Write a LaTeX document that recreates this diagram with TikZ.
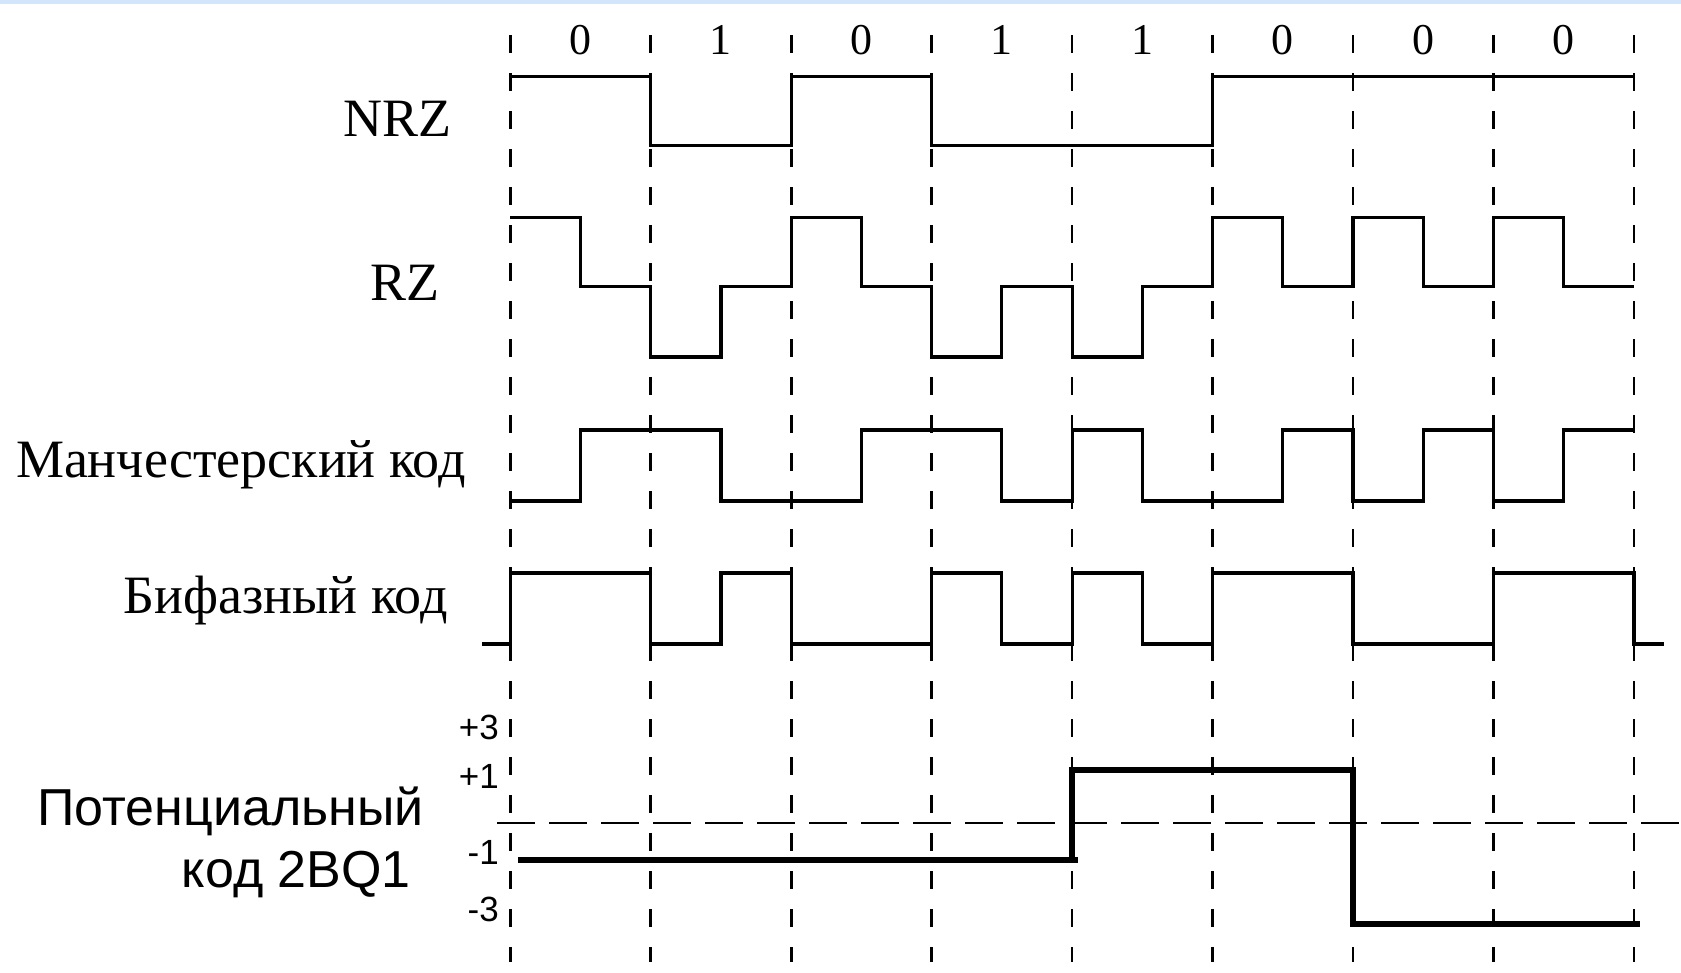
\documentclass[tikz,border=0pt]{standalone}
\usepackage{fontspec}
\setmainfont{Liberation Serif}
\newfontfamily\sansf{Liberation Sans}
\definecolor{band}{HTML}{D3E5FA}
\begin{document}
\begin{tikzpicture}[x=1pt,y=-1pt,
  sig/.style={line width=3.2pt, line join=miter},
  sigbold/.style={line width=5.5pt, line join=miter},
  vgrid/.style={line width=2.6pt, dash pattern=on 18pt off 20pt},
  hgrid/.style={line width=2.6pt, dash pattern=on 38pt off 14pt},
  lab/.style={font=\fontsize{54}{60}\selectfont, inner sep=0pt, anchor=base east},
  slab/.style={font=\sansf\fontsize{52}{58}\selectfont, inner sep=0pt, anchor=base east},
  axl/.style={font=\sansf\fontsize{35}{40}\selectfont, inner sep=0pt, anchor=east},
  digit/.style={font=\fontsize{44}{48}\selectfont, inner sep=0pt}]
\useasboundingbox (0,0) rectangle (1681,972);
\fill[band] (0,0) rectangle (1681,4);

% labels
\node[lab] (nrz) at (452,136) {NRZ};
\node[lab] (rz) at (440,300) {RZ};
\node[lab] (man) at (466,477) {Манчестерский код};
\node[lab] (bif) at (448,613) {Бифазный код};
\node[slab] (pot1) at (424,825) {Потенциальный};
\node[slab] (pot2) at (411,887) {код 2BQ1};
\node[axl] (p3) at (499,727) {+3};
\node[axl] (p1) at (499,776) {+1};
\node[axl] (m1) at (499,852) {-1};
\node[axl] (m3) at (499,909) {-3};

% horizontal dashed zero line
\draw[hgrid] (497,823) -- (1681,823);

\begin{scope}[shift={(510.3,0)}, x=140.45pt]
  % vertical grid
  \foreach \k in {0,...,8} \draw[vgrid] (\k,35) -- (\k,962);
  % bit digits
  \foreach \b [count=\i from 0] in {0,1,0,1,1,0,0,0}
    \node[digit] (d\i) at (\i+0.5,40) {\b};
  % NRZ
  \draw[sig] (0,76.5) -| (1,145.5) -| (2,76.5) -| (3,145.5) -| (5,76.5) -- (8,76.5);
  % RZ
  \draw[sig] (0,217.5) -| (0.5,286.5) -| (1,357) -| (1.5,286.5) -| (2,217.5)
     -| (2.5,286.5) -| (3,357) -| (3.5,286.5) -| (4,357) -| (4.5,286.5)
     -| (5,217.5) -| (5.5,286.5) -| (6,217.5) -| (6.5,286.5) -| (7,217.5)
     -| (7.5,286.5) -- (8,286.5);
  % Manchester
  \draw[sig] (0,501) -| (0.5,430) -| (1.5,501) -| (2.5,430) -| (3.5,501)
     -| (4,430) -| (4.5,501) -| (5.5,430) -| (6,501) -| (6.5,430) -| (7,501)
     -| (7.5,430) -- (8,430);
  % Biphase
  \draw[sig] (-0.2015,644) -| (0,573) -| (1,644) -| (1.5,573) -| (2,644)
     -| (3,573) -| (3.5,644) -| (4,573) -| (4.5,644) -| (5,573) -| (6,644)
     -| (7,573) -| (8,644) -- (8.214,644);
  % 2BQ1
  \draw[sigbold] (0.055,860) -| (4,770) -| (6,924) -- (8.044,924);
  \draw[sigbold] (4,860) -- (4.04,860);
\end{scope}
\end{tikzpicture}
\end{document}
